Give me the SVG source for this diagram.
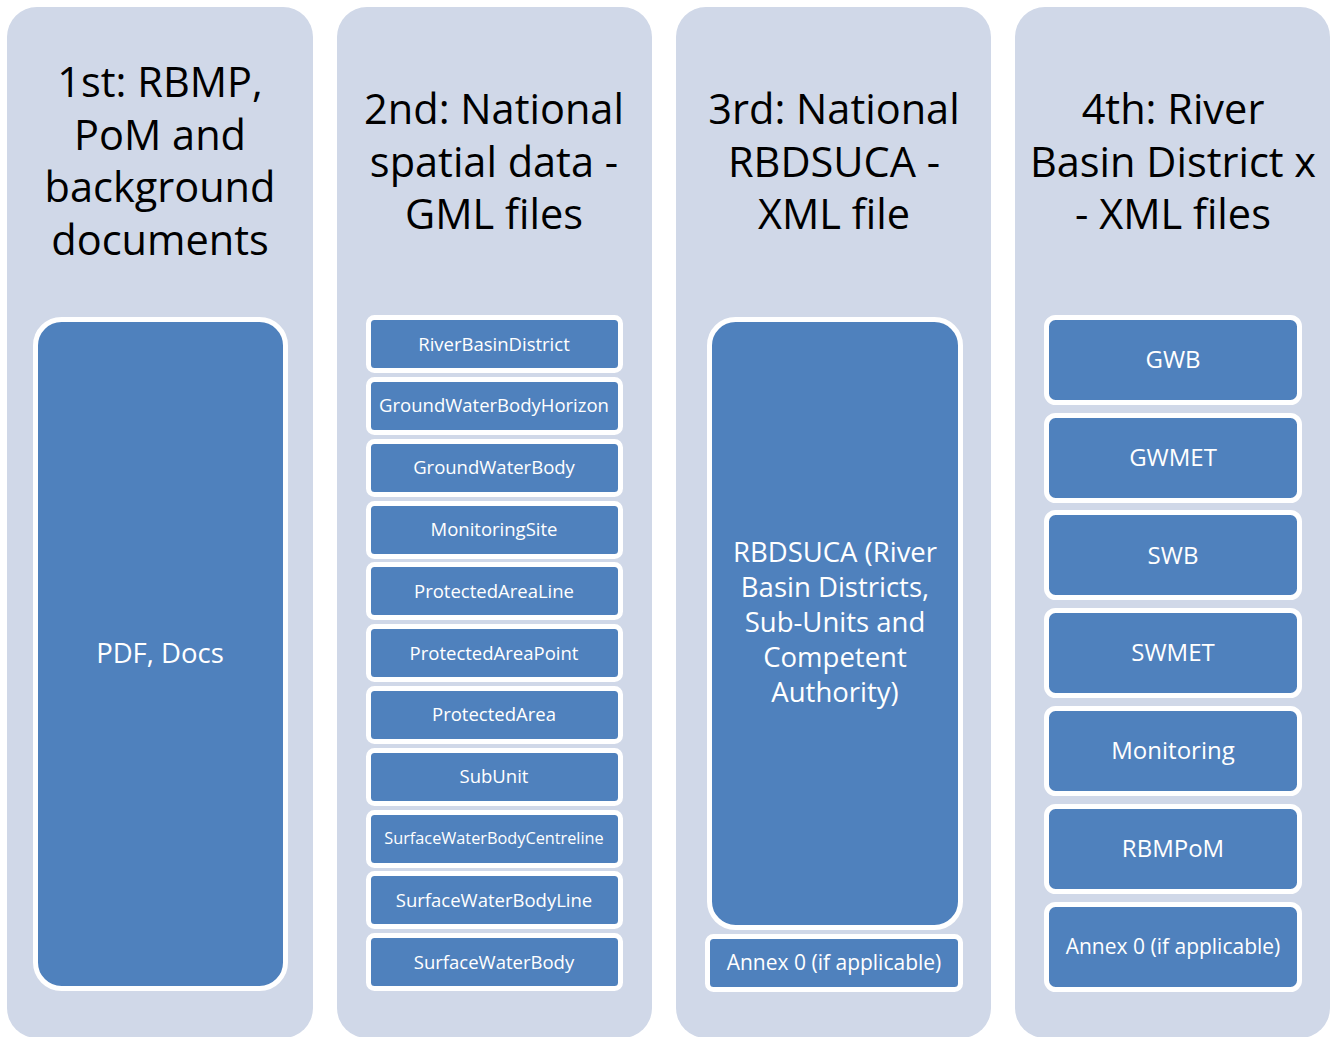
<svg xmlns="http://www.w3.org/2000/svg" width="1338" height="1037" viewBox="0 0 1338 1037">
<style>
.col{fill:#D0D8E8}
.box{fill:#4F81BD;stroke:#FFFFFF;stroke-width:5}
.title{font-family:"Open Sans","Noto Sans",sans-serif;font-size:41.5px;fill:#000;text-anchor:middle}
.t18{font-family:"Open Sans","Noto Sans",sans-serif;font-size:18.5px;fill:#fff;text-anchor:middle}
.t22{font-family:"Open Sans","Noto Sans",sans-serif;font-size:24px;fill:#fff;text-anchor:middle}
.t28{font-family:"Open Sans","Noto Sans",sans-serif;font-size:27.5px;fill:#fff;text-anchor:middle}
</style>
<rect width="1338" height="1037" fill="#fff"/>
<g id="col1">
<rect class="col" x="7" y="7" width="306" height="1031" rx="30"/>
<text class="title" x="160"><tspan x="160" y="97">1st: RBMP,</tspan><tspan x="160" y="150">PoM and</tspan><tspan x="160" y="202">background</tspan><tspan x="160" y="255">documents</tspan></text>
</g>
<g id="col2">
<rect class="col" x="337" y="7" width="315" height="1031" rx="30"/>
<text class="title" x="494"><tspan x="494" y="124">2nd: National</tspan><tspan x="494" y="177">spatial data -</tspan><tspan x="494" y="229">GML files</tspan></text>
</g>
<g id="col3">
<rect class="col" x="676" y="7" width="315" height="1031" rx="30"/>
<text class="title" x="834"><tspan x="834" y="124">3rd: National</tspan><tspan x="834" y="177">RBDSUCA -</tspan><tspan x="834" y="229">XML file</tspan></text>
</g>
<g id="col4">
<rect class="col" x="1015" y="7" width="315" height="1031" rx="30"/>
<text class="title" x="1173"><tspan x="1173" y="124">4th: River</tspan><tspan x="1173" y="177">Basin District x</tspan><tspan x="1173" y="229">- XML files</tspan></text>
</g>
<g id="pdf"><rect class="box" x="35.5" y="319.5" width="250" height="669" rx="26"/><text class="t28" x="160" y="663">PDF, Docs</text></g>
<g id="rbd"><rect class="box" x="368.5" y="317.5" width="252" height="53" rx="6"/><text class="t18" x="494" y="351">RiverBasinDistrict</text></g>
<g id="gwbh"><rect class="box" x="368.5" y="379.5" width="252" height="53" rx="6"/><text class="t18" x="494" y="412">GroundWaterBodyHorizon</text></g>
<g id="gwb2"><rect class="box" x="368.5" y="441.5" width="252" height="53" rx="6"/><text class="t18" x="494" y="474">GroundWaterBody</text></g>
<g id="ms"><rect class="box" x="368.5" y="503.5" width="252" height="53" rx="6"/><text class="t18" x="494" y="536">MonitoringSite</text></g>
<g id="pal"><rect class="box" x="368.5" y="564.5" width="252" height="53" rx="6"/><text class="t18" x="494" y="598">ProtectedAreaLine</text></g>
<g id="pap"><rect class="box" x="368.5" y="626.5" width="252" height="53" rx="6"/><text class="t18" x="494" y="660">ProtectedAreaPoint</text></g>
<g id="pa"><rect class="box" x="368.5" y="688.5" width="252" height="53" rx="6"/><text class="t18" x="494" y="721">ProtectedArea</text></g>
<g id="su"><rect class="box" x="368.5" y="750.5" width="252" height="53" rx="6"/><text class="t18" x="494" y="783">SubUnit</text></g>
<g id="swbc"><rect class="box" x="368.5" y="812.5" width="252" height="53" rx="6"/><text class="t18" x="494" y="844" style="font-size:16.3px">SurfaceWaterBodyCentreline</text></g>
<g id="swbl"><rect class="box" x="368.5" y="873.5" width="252" height="53" rx="6"/><text class="t18" x="494" y="907">SurfaceWaterBodyLine</text></g>
<g id="swb2"><rect class="box" x="368.5" y="935.5" width="252" height="53" rx="6"/><text class="t18" x="494" y="969">SurfaceWaterBody</text></g>
<g id="rbdsuca"><rect class="box" x="709.5" y="319.5" width="251" height="608" rx="26"/><text class="t28" x="835"><tspan x="835" y="562">RBDSUCA (River</tspan><tspan x="835" y="597">Basin Districts,</tspan><tspan x="835" y="632">Sub-Units and</tspan><tspan x="835" y="667">Competent</tspan><tspan x="835" y="702">Authority)</tspan></text></g>
<g id="annex3"><rect class="box" x="707.5" y="936.5" width="253" height="53" rx="6"/><text class="t18" x="834" y="970" style="font-size:21px">Annex 0 (if applicable)</text></g>
<g id="gwb"><rect class="box" x="1046.5" y="317.5" width="253" height="85" rx="9"/><text class="t22" x="1173" y="368">GWB</text></g>
<g id="gwmet"><rect class="box" x="1046.5" y="415.5" width="253" height="85" rx="9"/><text class="t22" x="1173" y="466">GWMET</text></g>
<g id="swb"><rect class="box" x="1046.5" y="512.5" width="253" height="85" rx="9"/><text class="t22" x="1173" y="564">SWB</text></g>
<g id="swmet"><rect class="box" x="1046.5" y="610.5" width="253" height="85" rx="9"/><text class="t22" x="1173" y="661">SWMET</text></g>
<g id="mon"><rect class="box" x="1046.5" y="708.5" width="253" height="85" rx="9"/><text class="t22" x="1173" y="759">Monitoring</text></g>
<g id="rbmpom"><rect class="box" x="1046.5" y="806.5" width="253" height="85" rx="9"/><text class="t22" x="1173" y="857">RBMPoM</text></g>
<g id="annex4"><rect class="box" x="1046.5" y="904.5" width="253" height="85" rx="9"/><text class="t22" x="1173" y="954" style="font-size:21px">Annex 0 (if applicable)</text></g>
<g id="connectors"/>
</svg>
